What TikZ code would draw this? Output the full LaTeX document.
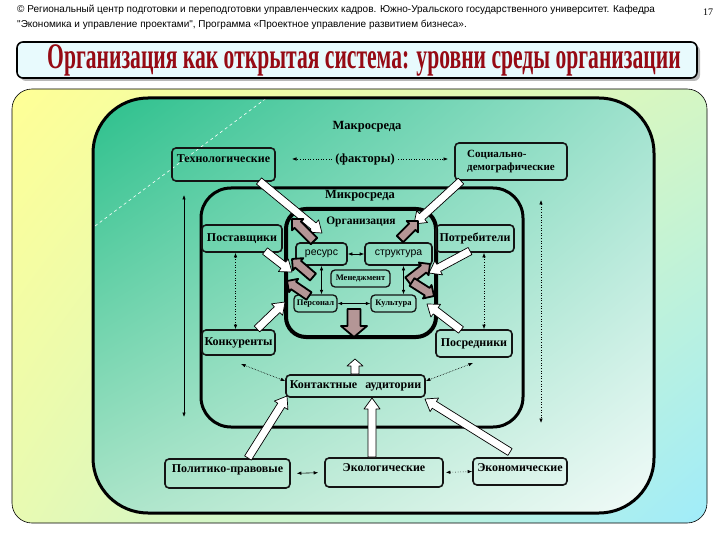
\documentclass[tikz,border=0pt]{standalone}
\usepackage{fontspec}
\setmainfont{Liberation Serif}
\newfontfamily\hdrfont{Liberation Sans}
\newfontfamily\titlefont[FakeStretch=0.6]{Liberation Serif}
\usetikzlibrary{calc}
\usetikzlibrary{arrows.meta}
\usetikzlibrary{shadings}
\usepackage{xcolor}
\definecolor{titlered}{RGB}{150,10,20}
\definecolor{titlefill}{RGB}{232,250,253}
\definecolor{outeryellow}{RGB}{255,255,150}
\definecolor{outergreen}{RGB}{212,246,196}
\definecolor{outerlime}{RGB}{232,250,178}
\definecolor{outercyan}{RGB}{160,236,250}
\definecolor{macroteal}{RGB}{44,192,140}
\definecolor{macromint}{RGB}{160,226,206}
\definecolor{macrosea}{RGB}{170,228,200}
\definecolor{macrowhite}{RGB}{242,251,249}
\definecolor{darkfill}{RGB}{180,150,150}
\definecolor{boxline}{RGB}{20,20,20}
% block arrow: style, tail, tip, shaft half width, head half width, head length
\newcommand{\blockarrow}[6]{%
\path ($(#3)!#6!(#2)$) coordinate (bahead);
\draw[#1] ($(#2)!#4!90:(#3)$) -- ($(bahead)!#4!90:(#3)$) -- ($(bahead)!#5!90:(#3)$) -- (#3) -- ($(bahead)!#5!-90:(#3)$) -- ($(bahead)!#4!-90:(#3)$) -- ($(#2)!#4!-90:(#3)$) -- cycle;}

\begin{document}
\begin{tikzpicture}[x=1pt,y=-1pt,
  box/.style={draw=boxline, line width=1.6pt, rounded corners=4pt, inner sep=1pt, font=\bfseries\fontsize{12}{13}\selectfont},
  smallbox/.style={box, line width=1.3pt, font=\bfseries\fontsize{8.5}{9}\selectfont},
  sansbox/.style={box, font=\hdrfont\fontsize{10.5}{12}\selectfont},
  heading/.style={font=\bfseries\fontsize{12.5}{14}\selectfont},
  twoway/.style={line width=0.6pt, {Latex[length=4.5pt,width=3.5pt]}-{Latex[length=4.5pt,width=3.5pt]}},
  oneway/.style={line width=0.6pt, -{Latex[length=4.5pt,width=3.5pt]}},
  hollow/.style={fill=white, draw=black, line width=0.7pt, line join=round},
  dark/.style={fill=darkfill, draw=black, line width=1.8pt, line join=round}]
\useasboundingbox (0,0) rectangle (720,540);
\fill[white] (0,0) rectangle (720,540);
% Drawing header
\node[anchor=west, inner sep=0pt, font=\hdrfont\fontsize{10}{11}\selectfont] (hdra) at (17.0,10.0) {© Региональный центр подготовки и переподготовки управленческих кадров. Южно-Уральского государственного университет. Кафедра};
\node[anchor=west, inner sep=0pt, font=\hdrfont\fontsize{10}{11}\selectfont] (hdrb) at (17.0,25.0) {"Экономика и управление проектами", Программа «Проектное управление развитием бизнеса».};
\node[font=\fontsize{10}{11}\selectfont] (page) at (708.0,12.0) {17};
% Title box with shadow
\fill[gray!55, rounded corners=6pt] (20.0,45.0) rectangle (700.0,81.0);
\draw[fill=titlefill, line width=1.6pt, rounded corners=6pt] (17.0,42.0) rectangle (697.0,78.0);
\node[text=titlered, font=\titlefont\bfseries\fontsize{36}{38}\selectfont] (title) at (364.0,60.0) {Организация как открытая система: уровни среды организации};
% Drawing environments
\shade[upper left=outeryellow, upper right=outergreen, lower left=outerlime, lower right=outercyan, rounded corners=20pt] (12.0,89.0) rectangle (707.0,523.0);
\draw[line width=0.6pt, rounded corners=20pt] (12.0,89.0) rectangle (707.0,523.0);
\shade[upper left=macroteal, upper right=macromint, lower left=macrosea, lower right=macrowhite, rounded corners=55pt] (93.0,98.0) rectangle (654.0,513.0);
\draw[white, dashed, line width=0.6pt] (95.0,226.0) -- (268.0,97.0);
\draw[line width=3pt, rounded corners=55pt] (93.0,98.0) rectangle (654.0,513.0);
\draw[line width=3pt, rounded corners=30pt] (201.0,188.0) rectangle (523.0,427.0);
\draw[line width=4pt, rounded corners=20pt] (286.0,209.0) rectangle (436.0,337.0);
\node[heading] (macro) at (367.0,127.0) {Макросреда};
\node[heading] (micro) at (360.0,196.0) {Микросреда};
\node[heading, font=\bfseries\fontsize{11.5}{13}\selectfont] (org) at (361.0,222.0) {Организация};
% Done with environments
% Macro factors
\node[box, minimum width=103pt, minimum height=33pt, text depth=12pt] (tech) at (223.5,164.5) {Технологические};
\node[box, minimum width=112pt, minimum height=37pt, align=left, font=\bfseries\fontsize{11}{13}\selectfont] (soc) at (511.0,161.5) {Социально-\\демографические};
\node[heading] (fak) at (365.0,159.0) {(факторы)};
\node[box, minimum width=125pt, minimum height=29pt, text depth=9pt] (pol) at (227.5,473.5) {Политико-правовые};
\node[box, minimum width=118pt, minimum height=29pt, text depth=9pt] (eko) at (384.0,472.5) {Экологические};
\node[box, minimum width=94pt, minimum height=27pt, text depth=8pt] (ekon) at (520.0,471.5) {Экономические};
% Micro factors
\node[box, minimum width=80pt, minimum height=27pt] (post) at (242.0,238.5) {Поставщики};
\node[box, minimum width=78pt, minimum height=27pt] (potr) at (475.0,238.5) {Потребители};
\node[box, minimum width=73pt, minimum height=25pt] (konk) at (238.5,342.5) {Конкуренты};
\node[box, minimum width=76pt, minimum height=27pt] (posr) at (474.0,343.5) {Посредники};
\node[box, minimum width=139pt, minimum height=22pt] (kont) at (355.5,386.0) {Контактные\hspace{5pt} аудитории};
% Inside the organisation
\node[sansbox, minimum width=51pt, minimum height=22pt] (res) at (321.5,254.0) {ресурс};
\node[sansbox, minimum width=67pt, minimum height=22pt] (str) at (398.5,254.0) {структура};
\node[smallbox, minimum width=59pt, minimum height=17pt] (men) at (360.5,278.5) {Менеджмент};
\node[smallbox, minimum width=43pt, minimum height=17pt] (pers) at (315.5,303.5) {Персонал};
\node[smallbox, minimum width=45pt, minimum height=17pt] (kult) at (393.5,303.5) {Культура};
% Done with boxes
% Drawing thin arrows
\coordinate (fl) at (292.0,159.0);
\coordinate (fr) at (448.0,159.0);
\draw[oneway, dotted] (fak.west) -- (fl);
\draw[oneway, dotted] (fak.east) -- (fr);
\draw[twoway] (res.east) -- (str.west);
\draw[twoway] (res.south) -- (res.south |- pers.north);
\draw[twoway] ([xshift=5pt]str.south) -- ([xshift=5pt]str.south |- kult.north);
\draw[twoway] (pers.east) -- (kult.west);
\draw[twoway, dotted] ([xshift=-3pt]konk.north) -- ([xshift=-3pt]konk.north |- post.south);
\draw[twoway, dotted] ([xshift=10pt]posr.north) -- ([xshift=10pt]posr.north |- potr.south);
\coordinate (lvt) at (184.0,195.0);
\coordinate (lvb) at (184.0,417.0);
\coordinate (rvt) at (541.0,200.0);
\coordinate (rvb) at (541.0,423.0);
\draw[twoway] (lvt) -- (lvb);
\draw[twoway, dotted] (rvt) -- (rvb);
\coordinate (kl) at (241.0,364.0);
\coordinate (kr) at (473.0,363.0);
\draw[twoway, densely dotted] ([yshift=5pt]kont.west) -- (kl);
\draw[twoway, densely dotted] ([yshift=5pt]kont.east) -- (kr);
\draw[twoway, shorten <=6pt, shorten >=6pt] (pol.east) -- (eko.west);
\draw[twoway, dotted, shorten <=2pt] (eko.east) -- (ekon.west);
% Drawing hollow arrows
\coordinate (wa1) at (259.0,181.0); \coordinate (wb1) at (322.0,233.0);
\coordinate (wa2) at (461.0,181.0); \coordinate (wb2) at (414.0,224.0);
\coordinate (wa3) at (265.0,251.0); \coordinate (wb3) at (292.0,272.0);
\coordinate (wa4) at (470.0,251.0); \coordinate (wb4) at (429.0,273.0);
\coordinate (wa5) at (257.0,329.0); \coordinate (wb5) at (285.0,302.0);
\coordinate (wa6) at (461.0,330.0); \coordinate (wb6) at (427.0,304.0);
\coordinate (wa7) at (355.0,374.0); \coordinate (wb7) at (355.0,359.0);
\coordinate (wa8) at (248.0,458.0); \coordinate (wb8) at (287.0,396.0);
\coordinate (wa9) at (372.0,457.0); \coordinate (wb9) at (372.0,398.0);
\coordinate (wa10) at (510.0,452.0); \coordinate (wb10) at (425.0,399.0);
\foreach \i in {1,2,3,4,5,6,8,9,10}
  \blockarrow{hollow}{wa\i}{wb\i}{4pt}{8pt}{11pt};
\blockarrow{hollow}{wa7}{wb7}{4pt}{8pt}{7pt};
% Drawing dark arrows
\coordinate (da1) at (314.0,241.0); \coordinate (db1) at (292.0,219.0);
\coordinate (da2) at (400.0,239.0); \coordinate (db2) at (418.0,221.0);
\coordinate (da3) at (313.0,277.0); \coordinate (db3) at (292.0,259.0);
\coordinate (da4) at (309.0,296.0); \coordinate (db4) at (287.0,281.0);
\coordinate (da5) at (408.0,281.0); \coordinate (db5) at (430.0,264.0);
\coordinate (da6) at (412.0,282.0); \coordinate (db6) at (434.0,296.0);
\foreach \i in {1,...,6}
  \blockarrow{dark}{da\i}{db\i}{4.5pt}{8pt}{8pt};
\coordinate (down) at (354.0,309.0);
\coordinate (downtip) at (354.0,337.0);
\blockarrow{dark}{down}{downtip}{6.5pt}{13pt}{11pt};
% Done with arrows
\end{tikzpicture}
\end{document}
